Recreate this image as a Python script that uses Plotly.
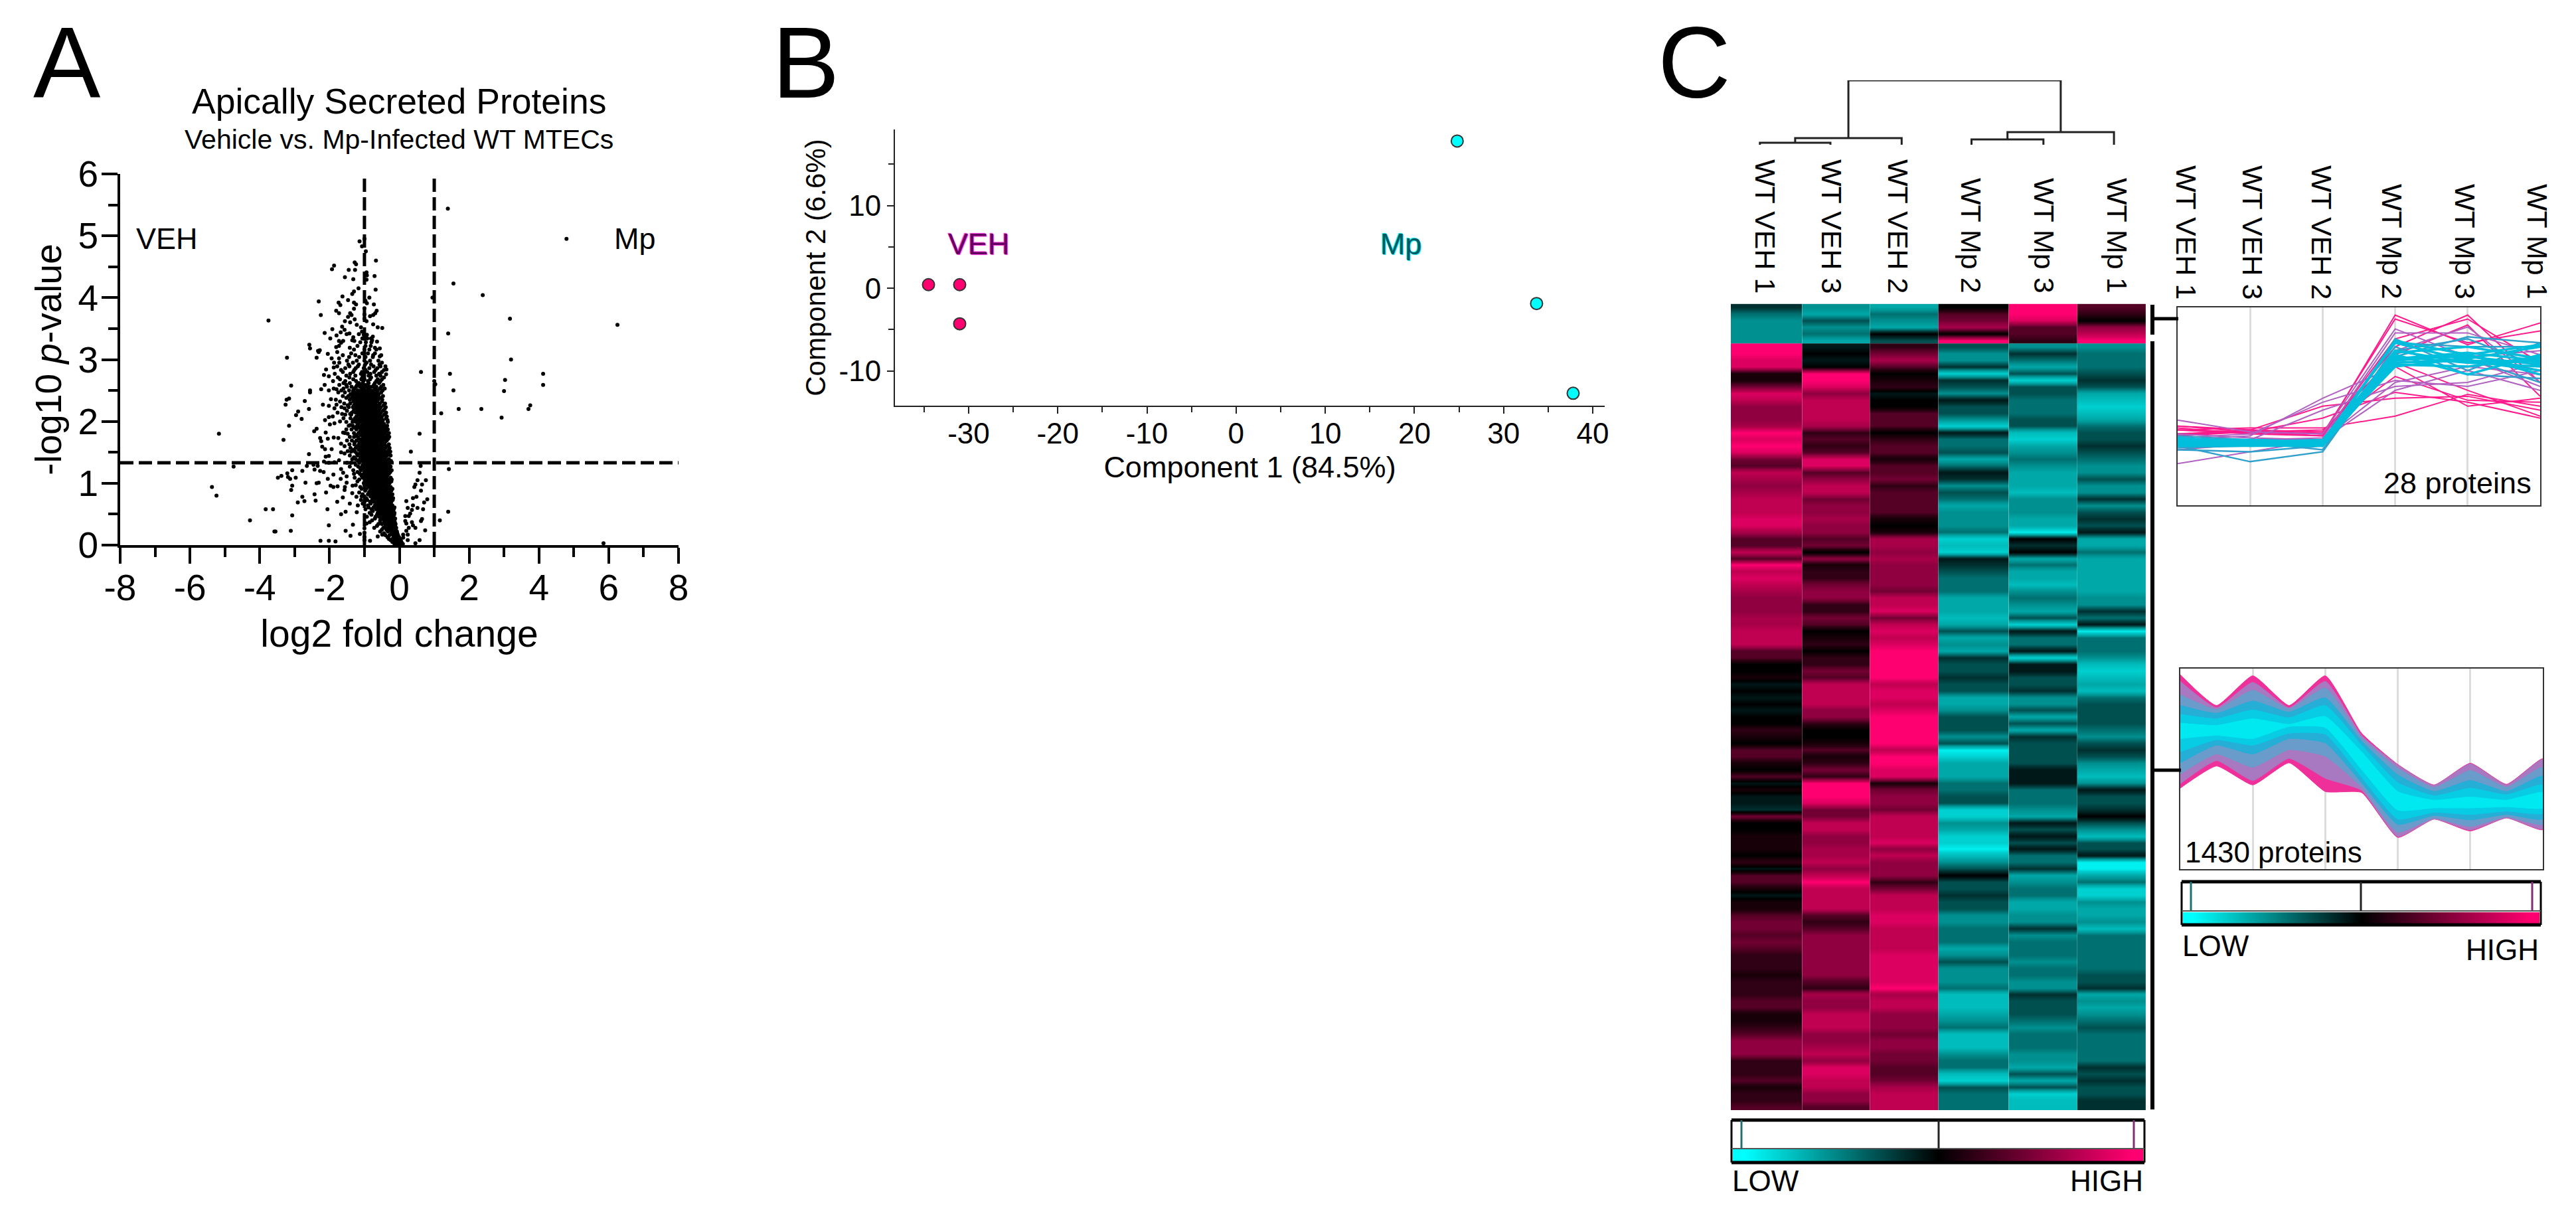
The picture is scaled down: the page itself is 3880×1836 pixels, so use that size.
import plotly.graph_objects as go

W, H = 3880, 1836
PAGE_MARGIN = 8   # the browser's default body margin shifts the whole figure
FONT = "Liberation Sans"
PINK = "#FF0070"
CYAN = "#00FFFF"

# ---------------- Panel A data: volcano ----------------
volcano_sparse = [
 (1.39,5.44),(4.79,4.95),(1.55,4.23),(2.39,4.04),(3.17,3.66),(6.25,3.56),(0.95,4.0),(1.4,3.42),(3.2,3.0),(0.62,2.8),
 (1.45,2.77),(4.12,2.77),(1.0,2.65),(1.03,2.6),(3.03,2.67),(4.12,2.59),(3.0,2.49),(1.55,2.5),(1.7,2.2),(2.35,2.2),
 (3.75,2.26),(3.7,2.2),(1.2,2.13),(2.93,2.06),(0.58,1.8),(0.33,1.51),(1.42,1.23),(1.4,0.54),(1.16,0.4),(5.85,0.03),
 (0.61,1.28),(0.58,1.17),(0.76,1.05),(0.52,1.05),(0.46,0.98),(0.43,0.94),(0.65,0.98),(0.62,0.88),(0.49,0.78),(0.39,0.76),
 (0.8,0.74),(0.71,0.69),(0.2,0.71),(0.24,0.6),(0.39,0.64),(0.52,0.6),(0.68,0.58),(0.36,0.57),(0.17,0.47),(0.27,0.47),
 (0.31,0.51),(0.17,0.39),(0.2,0.35),(0.36,0.37),(0.39,0.32),(0.46,0.28),(0.65,0.42),(0.62,0.39),(0.74,0.24),(0.27,0.28),
 (0.2,0.23),(0.11,0.17),(0.24,0.17),(0.11,0.12),(0.24,0.08),(0.58,0.08),(0.46,0.03),
 (-3.75,3.63),(-3.22,3.03),(-3.1,2.58),(-2.31,3.94),(-2.25,3.72),(-1.87,4.52),(-1.93,4.46),(-1.28,4.57),(-1.24,4.54),
 (-1.45,4.45),(-1.27,4.45),(-1.56,4.33),(-1.32,4.3),(-0.67,4.6),(-0.71,4.35),(-0.68,4.13),(-1.14,4.91),(-1.0,4.95),
 (-1.07,4.83),(-0.96,4.75),(-0.94,4.41),(-0.93,4.36),(-0.94,4.29),(-1.17,4.15),(-1.3,4.1),(-1.35,4.06),(-1.63,4.02),
 (-1.47,3.96),(-1.74,3.92),(-1.69,3.88),(-1.3,3.92),(-1.24,3.89),(-1.3,3.82),(-0.86,4.0),(-0.97,3.95),(-0.93,3.91),
 (-1.0,3.83),(-0.73,3.89),(-0.65,3.79),(-0.69,3.75),(-0.75,3.72),(-0.84,3.7),(-1.81,3.79),(-1.73,3.75),(-1.41,3.75),
 (-1.37,3.72),(-1.47,3.69),(-1.0,3.73),(-1.0,3.66),(-0.94,3.62),(-1.56,3.62),(-1.41,3.6),(-1.28,3.65),(-0.75,3.57),
 (-0.62,3.52),(-0.49,3.51),(-1.92,3.49),(-1.64,3.53),(-1.57,3.48),(-1.51,3.41),(-1.43,3.42),(-1.22,3.56),(-1.1,3.52),
 (-1.07,3.45),(-1.16,3.41),(-2.14,3.43),(-1.8,3.39),(-1.68,3.44),(-1.98,3.34),(-1.32,3.36),(-1.29,3.3),(-0.76,3.37),
 (-0.64,3.29),(-1.73,3.3),(-1.61,3.3),(-1.67,3.27),(-1.73,3.22),(-1.81,3.2),(-2.58,3.24),(-2.56,3.18),(-2.33,3.14),
 (-2.28,3.15),(-2.31,3.12),(-2.05,3.09),(-2.37,3.03),(-1.78,3.12),(-1.94,3.02),(-1.87,2.95),(-1.88,2.87),(-1.73,3.02),
 (-2.1,2.84),(-2.16,2.75),(-2.02,2.73),(-0.4,2.89),(-0.37,2.84),(-0.38,2.76),(-0.56,3.18),(-0.56,3.05),(-2.56,2.5),
 (-2.24,2.52),(-2.14,2.59),(-2.02,2.5),(-2.56,2.47),(-3.16,2.37),(-3.26,2.27),(-3.23,2.35),(-2.71,2.33),(-2.59,2.2),
 (-2.19,2.27),(-2.9,2.16),(-2.96,2.1),(-2.8,2.04),(-3.16,1.93),(-3.32,1.7),(-2.37,1.88),(-2.44,1.84),(-2.59,1.47),
 (-2.11,1.82),(-2.27,1.73),(-2.24,1.68),(-2.05,1.72),(-1.88,1.74),(-1.75,1.73),(-2.21,1.59),(-2.13,1.55),(-1.94,1.55),
 (-2.02,1.44),(-2.11,1.43),(-2.16,1.35),(-2.02,1.33),(-1.86,1.34),(-1.67,1.5),(-1.73,1.37),(-1.57,1.48),(-1.48,1.52),
 (-1.67,1.64),(-1.57,1.6),(-1.48,1.8),(-1.61,1.82),(-1.41,1.94),(-1.7,2.0),(-1.86,1.97),(-1.99,1.95),(-2.13,2.02),
 (-2.02,2.07),(-1.91,2.08),(-1.77,2.14),(-1.86,2.21),(-2.02,2.25),(-1.96,2.36),(-1.8,2.52),(-1.8,2.27),(-1.64,2.12),
 (-1.57,2.21),(-1.7,2.32),(-1.41,2.12),(-2.65,1.28),(-2.46,1.3),(-2.34,1.28),(-3.07,1.21),(-2.78,1.2),(-2.43,1.22),
 (-2.27,1.2),(-2.17,1.18),(-3.21,1.16),(-3.38,1.12),(-3.48,1.09),(-3.19,1.1),(-3.13,1.07),(-2.97,1.09),(-1.89,1.14),
 (-1.67,1.23),(-1.61,1.17),(-1.51,1.11),(-2.05,1.07),(-1.68,1.07),(-2.69,1.01),(-2.37,1.0),(-2.31,1.01),(-3.07,0.96),
 (-3.1,0.89),(-1.97,0.96),(-1.89,0.94),(-1.77,0.95),(-1.51,1.01),(-1.56,0.94),(-1.57,0.89),(-1.34,0.96),(-2.1,0.85),
 (-2.43,0.82),(-2.78,0.78),(-2.91,0.69),(-2.72,0.71),(-2.4,0.72),(-1.62,0.77),(-1.78,0.7),(-1.42,0.67),(-3.83,0.58),
 (-3.62,0.58),(-2.06,0.58),(-3.07,0.48),(-1.67,0.5),(-1.54,0.54),(-2.02,0.32),(-1.33,0.33),(-1.22,0.53),(-3.58,0.22),
 (-3.11,0.23),(-1.54,0.23),(-1.4,0.15),(-2.26,0.07),(-2.02,0.07),(-1.83,0.06),(-1.13,0.18),(-0.84,0.07),(-0.62,0.14),
 (-0.49,0.17),(-1.0,0.27),(-1.0,0.2),(-1.0,0.13),(-1.0,0.08),(-0.94,0.35),(-1.35,0.84),(-1.23,0.78),(-1.19,0.64),
 (-1.1,0.73),(-5.17,1.8),(-5.37,0.94),(-5.24,0.8),(-4.75,1.27),(-4.28,0.4),(-3.55,0.22),
]
volcano_core = [
 (3.40,[-1.02,-.93]),(3.34,[-1.06,-.92,-.81]),(3.28,[-1.12,-.96,-.8]),(3.22,[-1.2,-.97,-.82]),(3.16,[-1.3,-1.0,-.86,-.66]),
 (3.10,[-1.38,-1.06,-.9,-.7]),(3.04,[-1.44,-1.15,-.97,-.76]),(2.98,[-1.5,-1.22,-1.0,-.84,-.6]),(2.92,[-1.46,-1.16,-.98,-.81,-.57]),
 (2.86,[-1.55,-1.25,-1.02,-.86,-.63]),(2.80,[-1.62,-1.32,-1.07,-.92,-.72,-.5]),
 (2.74,[-1.52,-1.26,-1.03,-.88,-.66,-.54]),(2.68,[-1.7,-1.32,-1.09,-1.0,-.84,-.62,-.5]),
 (2.62,[-1.6,-1.42,-1.16,-1.05,-.88,-.7,-.58]),(2.56,[-1.5,-1.37,-1.24,-1.13,-1.02,-.94,-.85,-.77,-.66,-.52]),
 (2.50,[-1.66,-1.44,-1.32,-1.2,-1.1,-1.0,-.91,-.82,-.73,-.62,-.48]),(2.44,[-1.4,-1.28,-1.17,-1.07,-.97,-.89,-.8,-.7,-.59]),
 (2.38,[-1.52,-1.36,-1.25,-1.14,-1.04,-.95,-.86,-.77,-.67,-.55]),(2.32,[-1.32,-1.22,-1.11,-1.01,-.92,-.83,-.74,-.64,-.5]),
 (2.26,[-1.48,-1.3,-1.19,-1.08,-.98,-.89,-.8,-.71,-.6,-.45]),(2.20,[-1.28,-1.16,-1.05,-.95,-.86,-.77,-.68,-.57,-.42]),
 (2.14,[-1.36,-1.25,-1.13,-1.02,-.92,-.83,-.74,-.64,-.53,-.38]),(2.08,[-1.23,-1.1,-.99,-.89,-.8,-.71,-.61,-.5,-.36]),
 (2.02,[-1.32,-1.2,-1.08,-.96,-.86,-.77,-.68,-.58,-.47,-.34]),(1.96,[-1.18,-1.05,-.94,-.84,-.75,-.65,-.55,-.44]),
 (1.90,[-1.28,-1.15,-1.03,-.92,-.82,-.72,-.62,-.52,-.4]),(1.84,[-1.12,-1.0,-.9,-.8,-.7,-.6,-.49,-.38]),
 (1.78,[-1.24,-1.1,-.98,-.88,-.78,-.68,-.58,-.47,-.34]),(1.72,[-1.16,-1.06,-.96,-.86,-.76,-.66,-.55,-.44,-.32]),
 (1.66,[-1.28,-1.14,-1.03,-.93,-.83,-.73,-.63,-.52,-.41]),(1.60,[-1.2,-1.1,-1.0,-.9,-.8,-.7,-.6,-.49,-.36]),
 (1.54,[-1.32,-1.16,-1.07,-.97,-.87,-.77,-.67,-.57,-.46,-.3]),(1.48,[-1.22,-1.13,-1.04,-.94,-.84,-.74,-.64,-.54,-.43,-.32]),
 (1.42,[-1.3,-1.11,-1.01,-.91,-.81,-.71,-.61,-.51,-.4]),(1.36,[-1.18,-1.08,-.98,-.88,-.78,-.68,-.58,-.47,-.36,-.24]),
 (1.30,[-1.25,-1.05,-.95,-.85,-.75,-.65,-.55,-.44,-.33]),(1.24,[-1.12,-1.02,-.92,-.82,-.72,-.62,-.52,-.41,-.3]),
 (1.18,[-1.2,-1.0,-.89,-.79,-.69,-.59,-.49,-.38,-.26]),(1.12,[-1.08,-.96,-.86,-.76,-.66,-.56,-.45,-.35]),
 (1.06,[-1.15,-.93,-.83,-.73,-.63,-.53,-.42,-.31,-.22]),(1.00,[-1.02,-.9,-.8,-.7,-.6,-.5,-.39,-.28]),
 (.94,[-1.12,-.87,-.77,-.67,-.57,-.47,-.36,-.25]),(.88,[-.98,-.84,-.74,-.64,-.54,-.44,-.33,-.23]),
 (.82,[-1.05,-.9,-.8,-.7,-.6,-.5,-.4,-.3,-.2]),(.76,[-.95,-.77,-.67,-.57,-.47,-.37,-.27,-.18]),
 (.70,[-1.0,-.84,-.73,-.63,-.53,-.43,-.33,-.23]),(.64,[-.9,-.7,-.6,-.5,-.4,-.3,-.2]),
 (.58,[-.97,-.8,-.66,-.56,-.46,-.36,-.26,-.16]),(.52,[-.85,-.62,-.52,-.42,-.32,-.22,-.14]),
 (.46,[-.93,-.68,-.58,-.47,-.37,-.27,-.18]),(.40,[-.78,-.55,-.44,-.34,-.24,-.14]),
 (.34,[-.6,-.5,-.4,-.3,-.2,-.11]),(.28,[-.72,-.46,-.36,-.26,-.17,-.09]),(.22,[-.55,-.33,-.23,-.14,-.07]),
 (.16,[-.4,-.28,-.18,-.1,-.04]),(.10,[-.3,-.2,-.12,-.05,.02]),(.05,[-.2,-.12,-.06,0,.06]),(.02,[-.14,-.08,-.02,.04,.1]),
]
volcano_fill = [
 (3.31,[-1.35,-.78]),(3.19,[-1.42,-.7]),(3.07,[-1.62,-1.26,-.75,-.52]),
 (2.95,[-1.72,-1.33,-.94,-.5]),(2.89,[-1.78,-1.43,-1.19,-.74,-.54]),
 (2.83,[-1.67,-1.29,-.97,-.68,-.44]),(2.77,[-1.85,-1.41,-1.1,-.83,-.58]),
 (2.71,[-1.76,-1.43,-1.06,-.81,-.44]),(2.65,[-1.9,-1.55,-1.24,-1.03,-.9,-.66,-.54]),
 (2.59,[-1.72,-1.52,-1.21,-1.09,-.93,-.73,-.46]),(2.53,[-1.88,-1.6,-1.29,-1.06,-.89,-.69,-.56,-.42]),
 (2.47,[-1.75,-1.56,-1.33,-1.23,-1.12,-1.03,-.94,-.84,-.75,-.64,-.52]),(2.41,[-1.62,-1.46,-1.33,-1.21,-1.1,-1.0,-.91,-.83,-.72,-.62,-.47]),
 (2.35,[-1.82,-1.42,-1.3,-1.19,-1.09,-.99,-.9,-.81,-.72,-.61,-.49]),(2.29,[-1.58,-1.41,-1.26,-1.15,-1.05,-.95,-.86,-.78,-.69,-.56,-.41]),
 (2.23,[-1.66,-1.45,-1.33,-1.22,-1.11,-1.01,-.92,-.83,-.74,-.63,-.53,-.39]),(2.17,[-1.5,-1.31,-1.19,-1.08,-.98,-.89,-.79,-.7,-.59,-.47]),
 (2.11,[-1.55,-1.38,-1.17,-1.06,-.96,-.86,-.76,-.67,-.56,-.43]),(2.05,[-1.6,-1.4,-1.27,-1.14,-1.03,-.93,-.83,-.73,-.63,-.52,-.38]),
 (1.99,[-1.52,-1.34,-1.24,-1.12,-1.0,-.9,-.81,-.71,-.6,-.49,-.33]),(1.93,[-1.45,-1.33,-1.21,-1.09,-.98,-.87,-.77,-.67,-.57,-.46,-.35]),
 (1.87,[-1.52,-1.37,-1.23,-1.08,-.96,-.85,-.75,-.65,-.55,-.44,-.33]),(1.81,[-1.56,-1.3,-1.17,-1.05,-.94,-.84,-.74,-.64,-.53,-.42,-.3]),
 (1.75,[-1.42,-1.3,-1.19,-1.03,-.92,-.81,-.71,-.61,-.5,-.39,-.29]),(1.69,[-1.5,-1.36,-1.23,-1.09,-.99,-.89,-.79,-.69,-.58,-.47,-.36]),
 (1.63,[-1.43,-1.29,-1.16,-1.05,-.95,-.85,-.75,-.65,-.54,-.43,-.3]),(1.57,[-1.4,-1.25,-1.12,-1.02,-.92,-.82,-.72,-.62,-.51,-.4,-.28]),
 (1.51,[-1.38,-1.27,-1.09,-.99,-.89,-.79,-.69,-.59,-.48,-.38,-.26]),(1.45,[-1.42,-1.2,-1.06,-.96,-.86,-.76,-.66,-.56,-.46,-.35,-.25]),
 (1.39,[-1.35,-1.25,-1.13,-1.03,-.93,-.83,-.73,-.63,-.53,-.42,-.3]),(1.33,[-1.5,-1.38,-1.15,-1.0,-.9,-.8,-.7,-.6,-.5,-.39,-.27]),
 (1.27,[-1.42,-1.18,-1.07,-.97,-.87,-.77,-.67,-.57,-.47,-.36,-.25]),(1.21,[-1.32,-1.1,-.94,-.84,-.74,-.64,-.54,-.44,-.33,-.22]),
 (1.15,[-1.3,-1.13,-1.02,-.91,-.81,-.71,-.61,-.51,-.41,-.3]),(1.09,[-1.28,-1.05,-.98,-.88,-.78,-.68,-.58,-.48,-.37,-.25]),
 (1.03,[-1.2,-.95,-.85,-.75,-.65,-.55,-.45,-.34,-.23]),(.97,[-1.25,-1.0,-.92,-.82,-.72,-.62,-.52,-.42,-.31]),
 (.91,[-1.08,-.95,-.79,-.69,-.59,-.49,-.39,-.28,-.2]),(.85,[-1.15,-.87,-.76,-.66,-.56,-.46,-.36,-.26]),
 (.79,[-1.08,-.83,-.72,-.62,-.52,-.42,-.32,-.23]),(.73,[-.92,-.78,-.68,-.58,-.48,-.38,-.28,-.19]),
 (.67,[-1.05,-.82,-.65,-.55,-.45,-.35,-.25]),(.61,[-.88,-.74,-.63,-.53,-.43,-.33,-.23,-.14]),
 (.55,[-.76,-.58,-.47,-.37,-.27,-.18]),(.49,[-.8,-.64,-.54,-.44,-.34,-.24,-.15]),(.43,[-.7,-.5,-.4,-.3,-.2,-.12]),
 (.37,[-.85,-.55,-.43,-.33,-.23,-.13]),(.31,[-.64,-.4,-.3,-.2,-.12]),(.25,[-.5,-.37,-.27,-.18,-.1]),
 (.19,[-.44,-.23,-.14,-.06]),(.13,[-.34,-.16,-.08,-.01]),(.08,[-.25,-.1,-.03,.04]),
]
p_threshold = 1.33
fc_thresholds = [-1, 1]
a_x_ticks = [-8, -6, -4, -2, 0, 2, 4, 6, 8]
a_y_ticks = [0, 1, 2, 3, 4, 5, 6]

# ---------------- Panel B data: PCA ----------------
pca_veh_x = [-34.5, -31.0, -31.0]
pca_veh_y = [0.43, 0.43, -4.3]
pca_mp_x = [24.8, 33.7, 37.8]
pca_mp_y = [17.8, -1.85, -12.7]
b_x_ticks = [-30, -20, -10, 0, 10, 20, 30, 40]
b_y_ticks = [-10, 0, 10]

# ---------------- Panel C data: heat map (value scale -9..9) ----------------
col_names = ["WT VEH 1", "WT VEH 3", "WT VEH 2", "WT Mp 2", "WT Mp 3", "WT Mp 1"]
up_block = [
 [-2,-4,-5,-5,-5,-5],
 [-5,-6,-3,-5,-4,-6],
 [-6,-4,-5,-6,0,-3],
 [0,3,4,6,0,9],
 [9,9,8,3,3,2],
 [3,2,0,5,7,9],
]
veh1 = [9,9,8,8,1,1,4,8,7,5,5,5,6,9,8,9,8,4,3,7,6,5,6,7,7,7,8,8,6,3,3,7,3,9,7,
 8,7,6,5,5,5,6,6,7,7,7,3,3,0,0,1,-1,0,-1,0,-1,0,0,2,1,0,3,3,1,0,3,-1,1,-1,-1,-2,4,0,0,1,1,
 1,0,2,-1,3,3,1,-1,1,1,3,4,4,3,4,3,2,2,2,1,2,2,2,3,3,1,1,2,3,5,5,5,2,2,2,3,1,2,2,3]
veh3 = [-1,0,-1,0,9,9,8,5,7,7,7,7,6,2,3,2,3,8,8,3,5,7,7,4,5,5,6,5,5,3,4,0,5,1,2,
 2,4,5,5,2,2,4,3,0,1,2,0,2,2,4,3,7,7,7,7,5,5,2,0,0,1,3,1,2,4,2,9,9,9,8,4,4,7,7,5,5,
 6,6,7,5,7,9,7,7,7,7,3,2,3,5,5,5,5,5,5,5,3,2,6,5,5,7,7,7,5,5,6,7,5,8,8,7,7,5,5,3]
veh2 = [2,4,6,3,0,1,2,-1,0,0,3,3,3,0,2,3,3,1,3,3,4,2,3,3,3,3,1,0,1,6,6,5,6,5,5,
 5,5,4,7,7,8,4,7,8,7,8,9,9,9,9,9,7,8,8,7,8,9,9,9,9,9,7,9,9,8,8,1,4,5,5,4,7,7,7,7,8,
 5,7,5,5,5,2,4,7,7,7,8,8,7,7,7,7,8,8,8,8,8,9,6,7,7,5,5,5,4,5,5,4,4,3,3,4,6,7,7,7]
mp2 = [-3,-5,-5,-2,-8,-2,-3,-5,-1,-3,-3,-5,-8,-1,-4,-4,-3,-6,-4,-1,-2,-5,-3,-4,-6,-5,-5,-5,-4,-8,-7,-8,-1,-2,-3,
 -4,-4,-4,-6,-6,-6,-7,-6,-3,-6,-5,-6,-2,-3,-3,-2,-3,-3,-6,-6,-5,-3,-3,-3,-5,-3,-9,-8,-6,-6,-6,-4,-4,-3,-3,-8,-8,-5,-6,-8,-8,
 -9,-7,-5,-3,0,-3,-3,-2,-3,-3,-5,-5,-4,-4,-4,-6,-5,-3,-5,-5,-5,-4,-7,-7,-7,-6,-5,-4,-7,-7,-7,-5,-4,-4,-7,-8,-3,-4,-4,-4]
mp3 = [-5,-2,-4,-6,-3,-8,-3,-3,-4,-4,-4,-3,-3,-7,-8,-6,-5,-4,-5,-6,-6,-6,-7,-5,-5,-5,-6,-6,-9,0,-2,0,-6,-4,-6,
 -6,-7,-5,-4,-5,-6,-3,-8,-1,-4,-4,-1,-8,-1,-1,-3,-3,-2,-5,-5,-3,-6,-3,-6,-2,-3,-3,-3,-3,-1,-1,-1,-4,-4,-4,-5,-6,-1,-3,-1,-3,
 -1,-4,-4,-2,-6,-5,-4,-4,-6,-6,-5,-5,-2,-5,-4,-4,-4,-5,-4,-4,-5,-5,-2,-3,-3,-3,-4,-5,-4,-4,-4,-5,-5,-6,-3,-6,-3,-8,-7,-7]
mp1 = [-5,-4,-4,-4,-3,-2,-3,-6,-7,-8,-7,-6,-4,-3,-3,-2,-3,-4,-5,-5,-3,-5,-5,-2,-5,-3,-2,-3,-1,-6,-6,-4,-6,-6,-6,
 -6,-6,-6,-5,-5,-2,-4,-1,-9,-4,-4,-4,-5,-7,-8,-7,-6,-7,-4,-3,-3,-3,-3,-4,-5,-3,-2,-3,-5,-6,-7,-5,-1,-3,-3,-2,0,-3,-5,-7,-3,
 -3,-1,-9,-9,-6,-4,-8,-8,-5,-6,-6,-5,-7,-4,-4,-4,-4,-4,-4,-3,-3,-2,-6,-5,-6,-5,-4,-3,-4,-4,-4,-4,-4,-2,-3,-2,-3,-3,-2,-2]
col_edges = [0, 1.03, 2.01, 3.0, 4.02, 5.01, 6]
legend_ramp = [-9,-8,-7,-6,-5,-4,-3,-2,-1,0,1,2,3,4,5,6,7,8,9]
# colour read for each level of the heat-map scale, -9 .. 9
level_colors = ["#00F0F0","#00D0D0","#00BCBC","#00A8A8","#009090","#007070","#005050","#003030","#001818","#000000",
                "#180008","#300014","#550025","#720032","#900040","#A80048","#C00050","#DC0060","#FF0070"]

# dendrogram: leaf positions and merge heights, in heat-map column units
leaves = [0.42, 1.44, 2.47, 3.48, 4.52, 5.54]
merge_a = 3; merge_b = 10; merge_c = 8; merge_d = 19; merge_e = 97

# ---------------- Panel C data: profile plots ----------------
profile_cols = [0, 1, 2, 3, 4, 5]
lines_pink = [
 [38,36,35,96,81,92],[36,37,36,94,82,88],[40,37,36,80,96,62],[38,39,39,45,56,50],[35,38,50,54,55,48],[36,37,44,57,52,44],
 [38,37,38,65,53,52],[40,38,37,72,58,45],[36,38,36,70,50,54],[35,37,35,84,94,72],[39,36,37,76,91,55],
]
lines_purple = [
 [21,27,33,62,70,66],[43,37,36,89,75,78],[33,35,54,70,74,60],[34,36,52,63,60,68],[30,33,48,60,62,72],[32,33,34,87,87,76],
 [36,34,33,58,68,58],[28,31,30,78,90,62],
]
lines_blue = [
 [30,22,27,78,84,70],[28,27,30,84,68,82],[33,30,33,82,80,80],[31,32,28,80,66,64],[35,33,31,75,85,82],[29,30,32,72,74,62],
 [34,31,30,83,76,68],
]
lines_cyan = [
 [33,32,32,83,76,81],[31,31,31,78,72,73],[32,33,31,74,75,71],[34,32,33,76,66,76],[30,30,30,72,73,72],[32,31,32,73,76,66],
 [33,33,32,77,80,74],[31,32,30,75,72,70],[32,30,31,71,70,75],[30,31,32,82,73,68],[33,31,31,74,77,73],[31,33,32,70,74,80],
]
band_x = [0,.5,1,1.5,2,2.5,3,3.5,4,4.5,5]
band_tops = [
 [96.9,81.6,96.4,81.6,96.4,67.8,52.2,42,52.8,42.3,55],
 [93.6,80.5,93.1,80.5,93.6,66.7,51.9,41.8,52.5,42,54.7],
 [87,79.6,89.2,79.9,90.3,65.6,50.3,40.7,49.2,40.9,50.8],
 [81.6,77.7,83.8,78.3,85.4,64,47,38.7,44.2,38.7,46.4],
 [77.2,75,79.4,75.5,81.6,61.8,43.1,36.6,40.4,37.1,42],
 [72.8,71.7,75,72.2,76.1,58.5,38.7,34.4,36,34.4,38.2],
]
band_bottoms = [
 [40.4,51.4,42,53,38.7,38.2,15.8,24.9,19,25.5,19.7],
 [42.6,54.1,44.2,55.2,45.3,39.3,16.2,25,19.5,25.6,20.1],
 [47.5,57.4,50.8,59.6,56.3,40.9,18.4,25.4,21.2,26.1,22.3],
 [53,61.8,57.4,65.1,62.9,43.1,22.3,26.7,24.5,27.2,25],
 [58.5,64.5,61.8,67.8,67.3,45.9,25,28.3,27.2,28.9,27.8],
 [65.1,66.7,65.1,71.1,70.6,49.7,29.4,30.5,30.5,31.1,30.5],
]
band_colors = ["#F0309A", "#A878C0", "#6A9CCB", "#25AED6", "#08CCE4", "#00E8F0"]

# ---------------- helpers ----------------
def px(x): return (x - PAGE_MARGIN) / W
def py(y): return 1 - (y - PAGE_MARGIN) / H
def dom_x(l, r): return [px(l), px(r)]
def dom_y(t, b): return [py(b), py(t)]

anns, shapes = [], []
def text(s, x, y, size, xa="center", ya="middle", color="black", angle=0, shadow=None):
    font = dict(family=FONT, size=size, color=color)
    if shadow:
        font["shadow"] = shadow
    anns.append(dict(text=s, x=px(x), y=py(y), xref="paper", yref="paper", showarrow=False, xanchor=xa, yanchor=ya,
                     textangle=angle, font=font))
def line(x0, y0, x1, y1, w=5, color="black"):
    shapes.append(dict(type="line", xref="paper", yref="paper", x0=px(x0), y0=py(y0), x1=px(x1), y1=py(y1),
                       line=dict(color=color, width=w), layer="above"))

fig = go.Figure()
CS = [[0, CYAN], [0.5, "#000000"], [1, PINK]]
HEAT_CS = [[i / (len(level_colors) - 1), c] for i, c in enumerate(level_colors)]
hidden = dict(visible=False, fixedrange=True)

# ---------------- Panel A ----------------
rows = volcano_core + volcano_fill
vx = [p[0] for p in volcano_sparse] + [x for _, xs in rows for x in xs]
vy = [p[1] for p in volcano_sparse] + [y for y, xs in rows for _ in xs]
fig.add_trace(go.Scatter(x=vx, y=vy, mode="markers", marker=dict(color="black", size=6), xaxis="x", yaxis="y", cliponaxis=False))
for fc in fc_thresholds:
    fig.add_trace(go.Scatter(x=[fc, fc], y=[0, 6], mode="lines", line=dict(color="black", width=5, dash="20px,8px"), xaxis="x", yaxis="y"))
fig.add_trace(go.Scatter(x=[-8, 8], y=[p_threshold, p_threshold], mode="lines", line=dict(color="black", width=5, dash="20px,8px"), xaxis="x", yaxis="y"))

# ---------------- Panel B ----------------
fig.add_trace(go.Scatter(x=pca_veh_x, y=pca_veh_y, mode="markers", marker=dict(color=PINK, size=18, line=dict(color="#333", width=2)), xaxis="x2", yaxis="y2"))
fig.add_trace(go.Scatter(x=pca_mp_x, y=pca_mp_y, mode="markers", marker=dict(color=CYAN, size=18, line=dict(color="#333", width=2)), xaxis="x2", yaxis="y2"))

# ---------------- Dendrogram ----------------
L = leaves
m1 = (L[0] + L[1]) / 2
m2 = (m1 + L[2]) / 2
m3 = (L[3] + L[4]) / 2
m4 = (m3 + L[5]) / 2
dend_x = [L[0], L[0], L[1], L[1], None, m1, m1, L[2], L[2], None, L[3], L[3], L[4], L[4], None, m3, m3, L[5], L[5], None, m2, m2, m4, m4]
dend_y = [0, merge_a, merge_a, 0, None, merge_a, merge_b, merge_b, 0, None, 0, merge_c, merge_c, 0, None, merge_c, merge_d, merge_d, 0, None, merge_b, merge_e, merge_e, merge_d]
fig.add_trace(go.Scatter(x=dend_x, y=dend_y, mode="lines", line=dict(color="#222", width=3), xaxis="x3", yaxis="y3", cliponaxis=False))

# ---------------- Heat map: each column is drawn alone so the bands blend vertically only ----------------
columns = [veh1, veh3, veh2, mp2, mp3, mp1]
n_top = len(up_block[0])
for i, col in enumerate(columns):
    left, right = col_edges[i], col_edges[i + 1]
    edges = [left, (left + right) / 2, right]
    top_vals = up_block[i]
    fig.add_trace(go.Heatmap(z=[[v, v] for v in top_vals], x=edges, y=list(range(n_top)), colorscale=HEAT_CS, zmin=-9, zmax=9,
                             showscale=False, zsmooth="best", xaxis="x4", yaxis="y4"))
    fig.add_trace(go.Heatmap(z=[[v, v] for v in col], x=edges, y=list(range(n_top, n_top + len(col))), colorscale=HEAT_CS, zmin=-9, zmax=9,
                             showscale=False, zsmooth="best", xaxis="x4", yaxis="y4"))
fig.add_trace(go.Heatmap(z=[legend_ramp], colorscale=CS, zmin=-9, zmax=9, showscale=False, zsmooth="best", xaxis="x5", yaxis="y5"))
fig.add_trace(go.Heatmap(z=[legend_ramp], colorscale=CS, zmin=-9, zmax=9, showscale=False, zsmooth="best", xaxis="x8", yaxis="y8"))

# ---------------- Profiles ----------------
for group, color, width in [(lines_pink, "#FF1A8C", 2), (lines_purple, "#B060C0", 2), (lines_blue, "#30A0CC", 2.5), (lines_cyan, "#00BEDC", 3.5)]:
    for vals in group:
        fig.add_trace(go.Scatter(x=profile_cols, y=vals, mode="lines", line=dict(color=color, width=width), xaxis="x6", yaxis="y6"))
for top, bot, color in zip(band_tops, band_bottoms, band_colors):
    fig.add_trace(go.Scatter(x=band_x + band_x[::-1], y=top + bot[::-1], mode="lines", fill="toself", fillcolor=color,
                             line=dict(color=color, width=1, shape="spline", smoothing=0.45), xaxis="x7", yaxis="y7"))

# ---------------- Text ----------------
text("A", 101, 94, 152)
text("B", 1213, 94, 152)
text("C", 2552, 94, 152)
text("Apically Secreted Proteins", 601, 153, 53.5)
text("Vehicle vs. Mp-Infected WT MTECs", 601, 210, 41)
text("VEH", 203, 359, 45, xa="left")
text("Mp", 923, 359, 45, xa="left")
text("VEH", 1474, 368, 45, color="#660060", shadow="1px 1px 1px #FF30E0, -1px -1px 1px #FF30E0")
text("Mp", 2110, 367, 45, color="#005A60", shadow="1px 1px 1px #00E8F0, -1px -1px 1px #00E8F0")
for name, x in zip(col_names, [2659, 2759, 2859, 2969, 3079, 3189]):
    text(name, x, 444, 43, ya="bottom", angle=90)
for name, x in zip(col_names, [3293, 3393, 3497, 3603, 3713, 3822]):
    text(name, x, 453, 43, ya="bottom", angle=90)
text("28 proteins", 3815, 727, 45, xa="right")
text("1430 proteins", 3289, 1283, 44, xa="left")
text("LOW", 2607, 1778, 44, xa="left")
text("HIGH", 3230, 1778, 44, xa="right")
text("LOW", 3285, 1424, 44, xa="left")
text("HIGH", 3826, 1430, 44, xa="right")

# ---------------- Brackets and legend frames ----------------
line(3242, 459, 3242, 504, 6); line(3242, 514, 3242, 1671, 6)
line(3242, 480, 3281, 480, 5); line(3242, 1160, 3285, 1160, 5)
for l, r, t, m, b, ticks in [(2608, 3230, 1687, 1730, 1751, [(2623, "#207070"), (2920, "#222"), (3214, "#803070")]),
                             (3286, 3827, 1328, 1372, 1393, [(3300, "#207070"), (3556, "#222"), (3814, "#803070")])]:
    line(l, t, r, t, 5); line(l, b, r, b, 5); line(l, t, l, b, 3); line(r, t, r, b, 3)
    line(l, m, r, m, 2, "#555")
    for tx, c in ticks:
        line(tx, t, tx, m, 3, c)

# ---------------- Layout ----------------
layout = dict(
    template="none",
    width=W, height=H, margin=dict(l=0, r=0, t=0, b=0, pad=0), autosize=False, showlegend=False,
    paper_bgcolor="white", plot_bgcolor="white", hovermode=False, annotations=anns, shapes=shapes,
    font=dict(family=FONT, color="black"),
    xaxis=dict(domain=dom_x(181, 1022), range=[-8, 8], anchor="y", automargin=False, tickvals=a_x_ticks, ticktext=[str(v) for v in a_x_ticks],
               showgrid=False, zeroline=False, showline=True, linecolor="black", linewidth=4, ticks="outside", ticklen=24, tickwidth=4,
               tickcolor="black", tickfont=dict(size=55), ticklabelstandoff=-11,
               minor=dict(tick0=-8, dtick=1, ticks="outside", ticklen=14, tickwidth=4, tickcolor="black", showgrid=False),
               title=dict(text="log2 fold change", font=dict(size=57), standoff=20)),
    yaxis=dict(domain=dom_y(262, 821), range=[0, 6], anchor="x", automargin=False, tickvals=a_y_ticks, ticktext=[str(v) for v in a_y_ticks],
               showgrid=False, zeroline=False, showline=True, linecolor="black", linewidth=4, ticks="outside", ticklen=24, tickwidth=4,
               tickcolor="black", tickfont=dict(size=55), ticklabelstandoff=-6,
               minor=dict(tick0=0, dtick=0.5, ticks="outside", ticklen=14, tickwidth=4, tickcolor="black", showgrid=False),
               title=dict(text="-log10 <i>p</i>-value", font=dict(size=55), standoff=8)),
    xaxis2=dict(domain=dom_x(1348, 2417), range=[-38.26, 41.34], anchor="y2", automargin=False, tickvals=b_x_ticks, ticktext=[str(v) for v in b_x_ticks],
                showgrid=False, zeroline=False, showline=True, linecolor="#222", linewidth=2, ticks="outside", ticklen=10, tickwidth=2,
                tickcolor="#222", tickfont=dict(size=44), ticklabelstandoff=-8,
                minor=dict(tick0=-35, dtick=5, ticks="outside", ticklen=8, tickwidth=2, tickcolor="#222", showgrid=False),
                title=dict(text="Component 1 (84.5%)", font=dict(size=45), standoff=12)),
    yaxis2=dict(domain=dom_y(195, 611), range=[-14.2, 19.2], anchor="x2", automargin=False, tickvals=b_y_ticks, ticktext=[str(v) for v in b_y_ticks],
                showgrid=False, zeroline=False, showline=True, linecolor="#222", linewidth=2, ticks="outside", ticklen=10, tickwidth=2,
                tickcolor="#222", tickfont=dict(size=44),
                minor=dict(tick0=-10, dtick=5, ticks="outside", ticklen=8, tickwidth=2, tickcolor="#222", showgrid=False),
                title=dict(text="Component 2 (6.6%)", font=dict(size=42), standoff=7)),
    xaxis3=dict(domain=dom_x(2607, 3232), range=[0, 6], anchor="y3", **hidden),
    yaxis3=dict(domain=dom_y(121, 218), range=[0, 97], anchor="x3", **hidden),
    xaxis4=dict(domain=dom_x(2607, 3232), range=[0, 6], anchor="y4", **hidden),
    yaxis4=dict(domain=dom_y(457.6, 1672), range=[121.5, -0.5], anchor="x4", **hidden),
    xaxis5=dict(domain=dom_x(2610, 3228), anchor="y5", **hidden),
    yaxis5=dict(domain=dom_y(1731, 1749), anchor="x5", **hidden),
    xaxis6=dict(domain=dom_x(3280, 3826), range=[0, 5], anchor="y6", automargin=False, dtick=1, showgrid=True, gridcolor="#DDDDDD", gridwidth=3, zeroline=False,
                showline=True, mirror=True, linecolor="#333", linewidth=2, showticklabels=False, ticks=""),
    yaxis6=dict(domain=dom_y(462.6, 761), range=[0, 100], anchor="x6", automargin=False, showgrid=False, zeroline=False, showline=True, mirror=True,
                linecolor="#333", linewidth=2, showticklabels=False, ticks=""),
    xaxis7=dict(domain=dom_x(3284, 3830), range=[0, 5], anchor="y7", automargin=False, dtick=1, showgrid=True, gridcolor="#DDDDDD", gridwidth=3, zeroline=False,
                showline=True, mirror=True, linecolor="#333", linewidth=2, showticklabels=False, ticks=""),
    yaxis7=dict(domain=dom_y(1007, 1309), range=[0, 100], anchor="x7", automargin=False, showgrid=False, zeroline=False, showline=True, mirror=True,
                linecolor="#333", linewidth=2, showticklabels=False, ticks=""),
    xaxis8=dict(domain=dom_x(3288, 3825), anchor="y8", **hidden),
    yaxis8=dict(domain=dom_y(1374, 1391), anchor="x8", **hidden),
)
fig.update_layout(**layout)
fig.write_html("out.html")
